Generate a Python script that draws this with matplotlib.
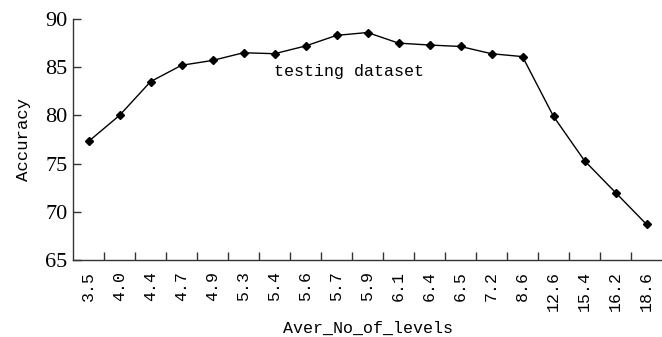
import matplotlib

matplotlib.use("Agg")
import matplotlib.pyplot as plt
import numpy as np


# data
LEVELS = ["3.5", "4.0", "4.4", "4.7", "4.9", "5.3", "5.4", "5.6", "5.7", "5.9",
          "6.1", "6.4", "6.5", "7.2", "8.6", "12.6", "15.4", "16.2", "18.6"]
ACCURACY = [77.3, 80.0, 83.5, 85.2, 85.7, 86.5, 86.4, 87.2, 88.3, 88.6,
            87.5, 87.3, 87.15, 86.4, 86.1, 79.9, 75.3, 72.0, 68.7]
Y_TICKS = [65, 70, 75, 80, 85, 90]

MONO = "Liberation Mono"
SERIF = "Liberation Serif"


def main() -> None:
    fig = plt.figure(figsize=(6.62, 3.37), dpi=100)
    ax = fig.add_axes([0.1103, 0.2285, 0.8897, 0.7151])

    x = np.arange(len(LEVELS))
    ax.plot(x, ACCURACY, color="black", lw=1.0, marker="D", ms=4.2,
            markerfacecolor="black", markeredgecolor="black")

    ax.set_xlim(-0.5, len(LEVELS) - 0.5)
    ax.set_ylim(65, 90)

    for side in ("top", "right"):
        ax.spines[side].set_visible(False)
    for side in ("left", "bottom"):
        ax.spines[side].set_color("#333333")
        ax.spines[side].set_linewidth(1.0)

    # labels at category centres, tick marks between categories
    ax.set_xticks(x)
    ax.set_xticklabels(LEVELS, rotation=90, family=MONO, fontsize=12)
    ax.set_xticks(np.arange(len(LEVELS) - 1) + 0.5, minor=True)
    ax.tick_params(axis="x", which="major", length=0, pad=8)
    ax.tick_params(axis="x", which="minor", direction="in", length=6, width=1.0, color="#333333")

    ax.set_yticks(Y_TICKS)
    ax.set_yticklabels([str(v) for v in Y_TICKS], family=SERIF, fontsize=16)
    ax.tick_params(axis="y", direction="in", length=6, width=1.0, color="#333333", pad=4)

    ax.set_xlabel("Aver_No_of_levels", family=MONO, fontsize=12, labelpad=7)
    ax.set_ylabel("Accuracy", family=MONO, fontsize=12.5, labelpad=10)

    ax.text(8.39, 84.6, "testing dataset", family=MONO, fontsize=12,
            ha="center", va="center")

    fig.savefig("out.png", dpi=100)
    plt.close(fig)


if __name__ == "__main__":
    main()
